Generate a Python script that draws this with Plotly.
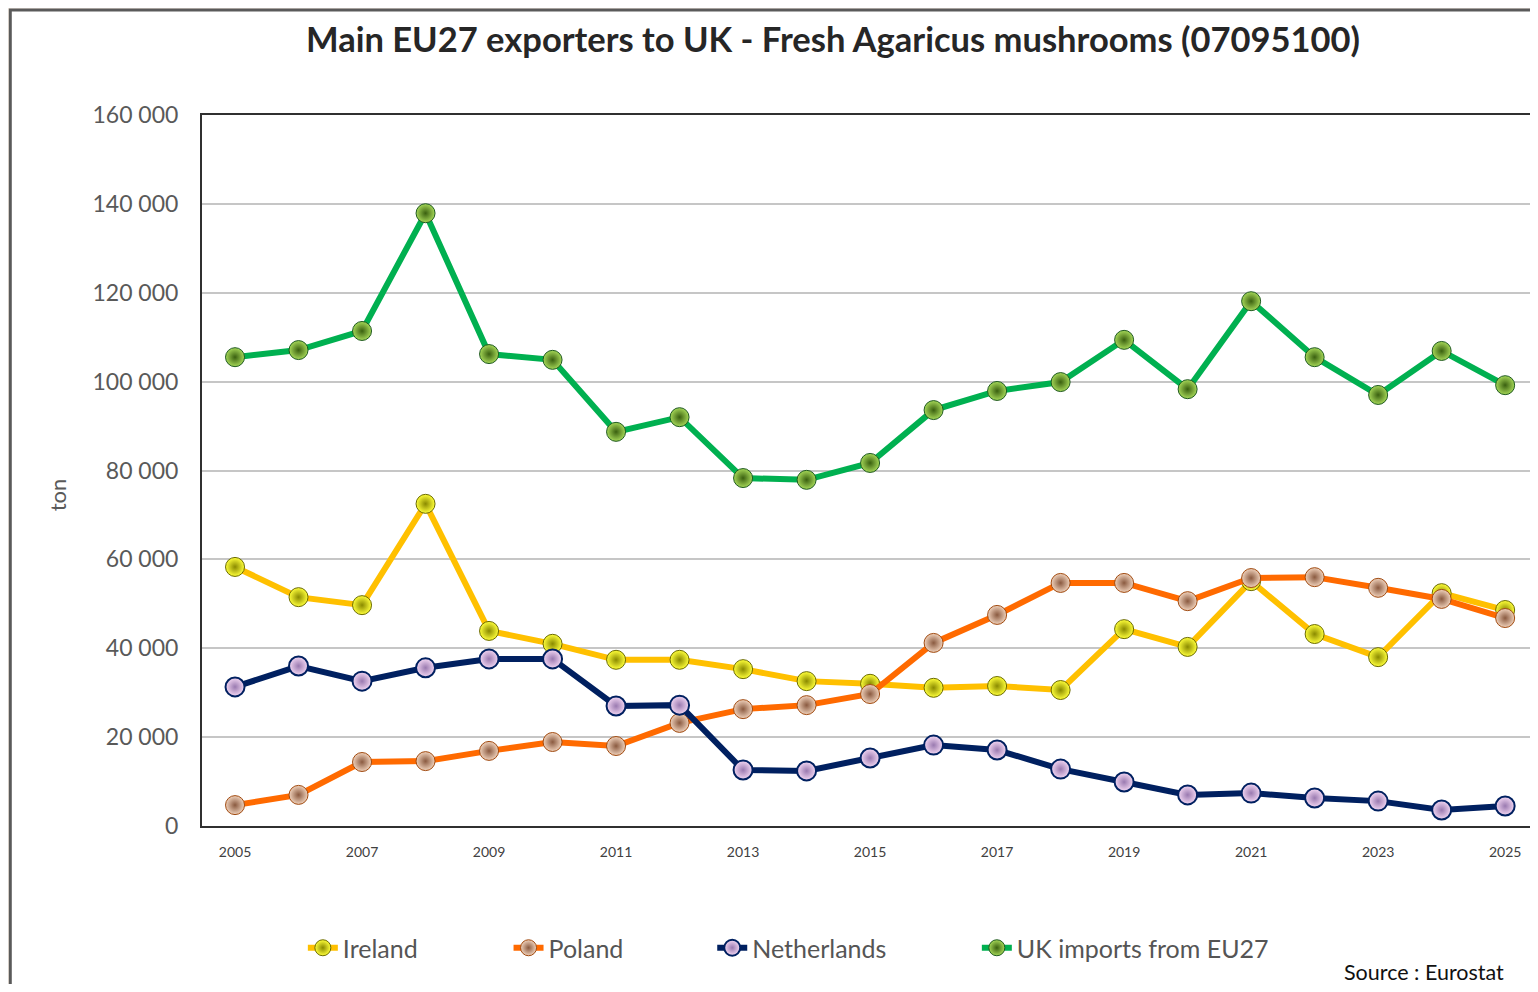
import plotly.graph_objects as go

years = list(range(2005, 2026))
ireland = [58300, 51500, 49700, 72500, 43900, 41000, 37400, 37400, 35300, 32600, 32000,
           31100, 31500, 30600, 44300, 40300, 55100, 43200, 38000, 52400, 48600]
poland = [4700, 7000, 14400, 14600, 16900, 18900, 18000, 23200, 26300, 27200, 29700,
          41200, 47500, 54700, 54700, 50600, 55800, 56000, 53600, 51100, 46800]
netherlands = [31300, 36000, 32600, 35600, 37600, 37600, 27000, 27200, 12600, 12400, 15300,
               18200, 17100, 12800, 9900, 7000, 7400, 6300, 5600, 3600, 4500]
uk_total = [105500, 107100, 111400, 137900, 106200, 104900, 88700, 92000, 78300, 77900, 81700,
            93600, 97900, 99900, 109400, 98300, 118100, 105500, 97000, 106900, 99200]

series_names = ["Ireland", "Poland", "Netherlands", "UK imports from EU27"]
y_tickvals = [0, 20000, 40000, 60000, 80000, 100000, 120000, 140000, 160000]
y_ticktext = ["0", "20 000", "40 000", "60 000", "80 000", "100 000", "120 000", "140 000", "160 000"]
x_tickvals = list(range(2005, 2026, 2))

FONT = "Lato, 'Open Sans', sans-serif"

styles = [
    dict(line="#ffc000", center="#ffff3a", edge="#8a8a00", outline="#6a6a00", ow=1),
    dict(line="#ff6a00", center="#f0d2bc", edge="#8a5a40", outline="#a04a10", ow=1),
    dict(line="#002060", center="#f4d8f4", edge="#9a7ab0", outline="#002060", ow=2),
    dict(line="#00b050", center="#a6d858", edge="#3a6010", outline="#1f5a20", ow=1),
]
data = [ireland, poland, netherlands, uk_total]
legend_ids = ["legend", "legend2", "legend3", "legend4"]

fig = go.Figure()
for name, vals, st, lid in zip(series_names, data, styles, legend_ids):
    fig.add_trace(go.Scatter(
        x=years, y=vals, name=name, mode="lines+markers",
        line=dict(color=st["line"], width=6),
        marker=dict(size=19, color=st["center"],
                    gradient=dict(type="radial", color=st["edge"]),
                    line=dict(color=st["outline"], width=st["ow"])),
        legend=lid,
    ))

# page body has an 8px margin: figure coordinates = screen coordinates - 8
OFF = 8
W, H = 1530, 976
L, T = 202 - OFF, 115 - OFF
pw, ph = 1335, 711
R = W - L - pw
B = H - T - ph

def px(x):
    return (x - OFF - L) / pw

def py(y):
    return (T + ph - (y - OFF)) / ph

legend_common = dict(orientation="h", yanchor="middle", xanchor="left",
                     font=dict(family=FONT, size=25, color="#555555"),
                     bgcolor="rgba(0,0,0,0)", borderwidth=0)
legend_x = [303, 509, 713, 978]
leg_layout = {}
for lid, lx in zip(legend_ids, legend_x):
    leg_layout[lid] = dict(legend_common, x=px(lx), y=py(948))

fig.update_layout(
    width=W, height=H,
    margin=dict(l=L, r=R, t=T, b=B),
    paper_bgcolor="#f6ede4",
    plot_bgcolor="white",
    font=dict(family=FONT, color="#555555"),
    title=dict(text="<b>Main EU27 exporters to UK - Fresh Agaricus mushrooms (07095100)</b>",
               x=(833 - OFF) / W, xref="container", xanchor="center",
               y=1 - (40 - OFF) / H, yref="container", yanchor="middle",
               font=dict(family=FONT, size=34.5, color="#262626")),
    xaxis=dict(range=[2004.48, 2025.47], tickvals=x_tickvals, showgrid=False,
               showline=True, mirror=True, linecolor="#303030", linewidth=2,
               ticks="", ticklabelstandoff=12,
               tickfont=dict(family=FONT, size=14, color="#404040"), zeroline=False),
    yaxis=dict(range=[0, 160000], tickvals=y_tickvals, ticktext=y_ticktext,
               showgrid=True, gridcolor="#c6c6c6", gridwidth=2,
               showline=True, mirror=True, linecolor="#303030", linewidth=2,
               ticks="", ticklabelstandoff=17, zeroline=False,
               tickfont=dict(family=FONT, size=23, color="#595959")),
    showlegend=True,
    **leg_layout,
)

fig.add_shape(type="rect", xref="paper", yref="paper",
              x0=px(10), x1=px(1600), y0=py(1050), y1=py(10),
              line=dict(color="#5a5a5a", width=3), fillcolor="white", layer="below")

fig.add_annotation(text="ton", xref="paper", yref="paper", x=px(57), y=py(495),
                   textangle=-90, showarrow=False, xanchor="center", yanchor="middle",
                   font=dict(family=FONT, size=22, color="#595959"))
fig.add_annotation(text="Source : Eurostat", xref="paper", yref="paper", x=px(1508), y=py(972),
                   showarrow=False, xanchor="right", yanchor="middle",
                   font=dict(family=FONT, size=21.5, color="#111111"))

fig.write_html("out.html")
